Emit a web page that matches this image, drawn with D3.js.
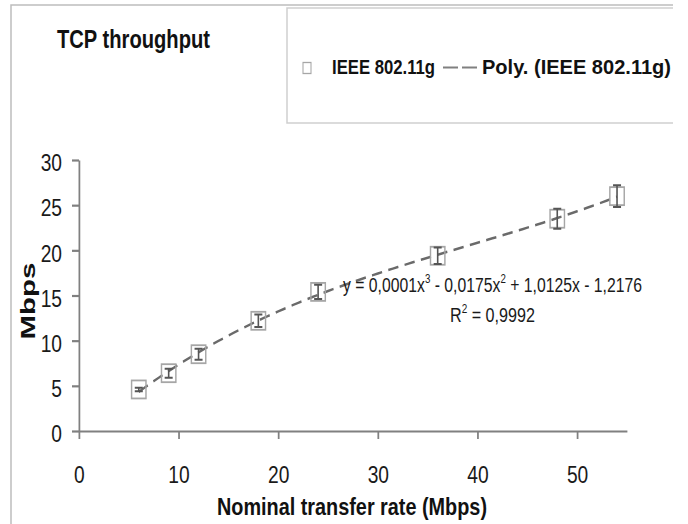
<!DOCTYPE html>
<html>
<head>
<meta charset="utf-8">
<script src="https://cdn.jsdelivr.net/npm/d3@7/dist/d3.min.js"></script>
<style>
  body { margin: 0; background: #fff; }
  text { font-family: "Liberation Sans", Arial, sans-serif; }
</style>
</head>
<body>
<svg id="chart" width="688" height="524"></svg>
<script>
// measured values (Mbps) per nominal rate
var rates = [6, 9, 12, 18, 24, 36, 48, 54]
var throughput = [4.6, 6.4, 8.5, 12.2, 15.4, 19.4, 23.5, 26.0]
var errors = [0.2, 0.5, 0.6, 0.7, 0.8, 0.9, 1.1, 1.2]
var xTicks = [0, 10, 20, 30, 40, 50]
var yTicks = [0, 5, 10, 15, 20, 25, 30]
var title = 'TCP throughput'
var seriesName = 'IEEE 802.11g'
var trendName = 'Poly. (IEEE 802.11g)'
var xTitle = 'Nominal transfer rate (Mbps)'
var yTitle = 'Mbps'

// the original picture is squeezed horizontally, so draw in a wider space and scale it back
var s = 0.8
function vx(px) { return px / s }

var svg = d3.select('#chart')

// outer frame
svg.append('path')
    .attr('d', 'M11,524 V5 H673')
    .attr('fill', 'none')
    .attr('stroke', '#bdbdbd')
    .attr('stroke-width', 1.5)

var g = svg.append('g').attr('transform', 'scale(' + s + ',1)')

var x = d3.scaleLinear().domain([0, 55]).range([vx(79), vx(627)])
var y = d3.scaleLinear().domain([0, 30]).range([431, 160])

// least squares cubic, like the spreadsheet trendline
function polyfit(xs, ys, deg) {
    var n = deg + 1
    var A = [], b = []
    for (var i = 0; i < n; i++) {
        A.push([])
        for (var j = 0; j < n; j++) {
            A[i].push(d3.sum(xs, function(v) { return Math.pow(v, i + j) }))
        }
        b.push(d3.sum(xs, function(v, k) { return ys[k] * Math.pow(v, i) }))
    }
    for (var c = 0; c < n; c++) {
        var p = c
        for (var r = c + 1; r < n; r++) if (Math.abs(A[r][c]) > Math.abs(A[p][c])) p = r
        var t = A[c]; A[c] = A[p]; A[p] = t
        t = b[c]; b[c] = b[p]; b[p] = t
        for (r = c + 1; r < n; r++) {
            var f = A[r][c] / A[c][c]
            for (var k = c; k < n; k++) A[r][k] -= f * A[c][k]
            b[r] -= f * b[c]
        }
    }
    var coef = new Array(n)
    for (i = n - 1; i >= 0; i--) {
        var sum = b[i]
        for (j = i + 1; j < n; j++) sum -= A[i][j] * coef[j]
        coef[i] = sum / A[i][i]
    }
    return coef
}
var coef = polyfit(rates, throughput, 3)
function trend(v) { return coef[0] + coef[1] * v + coef[2] * v * v + coef[3] * v * v * v }

// axes
var yAxis = g.append('g')
    .attr('transform', 'translate(' + vx(79) + ',0)')
    .call(d3.axisLeft(y).tickValues(yTicks).tickSize(vx(7)).tickSizeOuter(0).tickPadding(vx(10)))
var xAxis = g.append('g')
    .attr('transform', 'translate(0,431)')
    .call(d3.axisBottom(x).tickValues(xTicks).tickSize(8).tickSizeOuter(0).tickPadding(27))

;[xAxis, yAxis].forEach(function(a) {
    a.selectAll('path, line').attr('stroke', '#808080').attr('stroke-width', 2.2)
    a.selectAll('text')
        .attr('fill', '#1a1a1a')
        .style('font-size', '24px')
        .style('font-family', '"Liberation Sans", Arial, sans-serif')
})
yAxis.selectAll('text').attr('dy', '0.45em')

// trendline
var line = d3.line()
    .x(function(d) { return x(d) })
    .y(function(d) { return y(trend(d)) })
g.append('path')
    .datum(d3.range(rates[0], rates[rates.length - 1] + 0.01, 0.5))
    .attr('d', line)
    .attr('fill', 'none')
    .attr('stroke', '#6a6a6a')
    .attr('stroke-width', 2.5)
    .attr('stroke-dasharray', '13,8')

// markers
var pts = g.selectAll('.pt').data(rates).enter().append('g').attr('class', 'pt')
pts.append('rect')
    .attr('x', function(d) { return x(d) - 9 })
    .attr('y', function(d, i) { return y(throughput[i]) - 9 })
    .attr('width', 18)
    .attr('height', 18)
    .attr('fill', 'none')
    .attr('stroke', '#a6a6a6')
    .attr('stroke-width', 1.8)

// error bars
pts.append('path')
    .attr('d', function(d, i) {
        var cx = x(d), top = y(throughput[i] + errors[i]), bot = y(throughput[i] - errors[i])
        return 'M' + (cx - 5) + ',' + top + 'H' + (cx + 5) +
            'M' + cx + ',' + top + 'V' + bot +
            'M' + (cx - 5) + ',' + bot + 'H' + (cx + 5)
    })
    .attr('fill', 'none')
    .attr('stroke', '#555')
    .attr('stroke-width', 2)

// equation
var eq = g.append('text')
    .attr('x', vx(343))
    .attr('y', 292)
    .attr('textLength', vx(299))
    .attr('lengthAdjust', 'spacingAndGlyphs')
    .attr('fill', '#1a1a1a')
    .style('font-size', '21px')
eq.append('tspan').text('y = 0,0001x')
eq.append('tspan').attr('dy', -9).style('font-size', '13px').text('3')
eq.append('tspan').attr('dy', 9).text(' - 0,0175x')
eq.append('tspan').attr('dy', -9).style('font-size', '13px').text('2')
eq.append('tspan').attr('dy', 9).text(' + 1,0125x - 1,2176')

var r2 = g.append('text')
    .attr('x', vx(450))
    .attr('y', 322)
    .attr('textLength', vx(85))
    .attr('lengthAdjust', 'spacingAndGlyphs')
    .attr('fill', '#1a1a1a')
    .style('font-size', '21px')
r2.append('tspan').text('R')
r2.append('tspan').attr('dy', -9).style('font-size', '13px').text('2')
r2.append('tspan').attr('dy', 9).text(' = 0,9992')

// titles
g.append('text')
    .attr('x', vx(57))
    .attr('y', 48)
    .attr('textLength', vx(153))
    .attr('lengthAdjust', 'spacingAndGlyphs')
    .attr('font-weight', 'bold')
    .attr('fill', '#111')
    .style('font-size', '26px')
    .text(title)

g.append('text')
    .attr('x', vx(352))
    .attr('y', 515)
    .attr('text-anchor', 'middle')
    .attr('textLength', vx(270))
    .attr('lengthAdjust', 'spacingAndGlyphs')
    .attr('font-weight', 'bold')
    .attr('fill', '#111')
    .style('font-size', '23.7px')
    .text(xTitle)

svg.append('text')
    .attr('transform', 'translate(35,301) scale(0.7,1) rotate(-90)')
    .attr('text-anchor', 'middle')
    .attr('font-weight', 'bold')
    .attr('fill', '#111')
    .style('font-size', '29.5px')
    .text(yTitle)

// legend
svg.append('path')
    .attr('d', 'M673,8 H287 V123 H673')
    .attr('fill', 'none')
    .attr('stroke', '#cfcfcf')
    .attr('stroke-width', 1.5)

var lg = g.append('g')
lg.append('rect')
    .attr('x', vx(303))
    .attr('y', 62.5)
    .attr('width', vx(8))
    .attr('height', 11)
    .attr('fill', 'none')
    .attr('stroke', '#a6a6a6')
    .attr('stroke-width', 1.3)
lg.append('text')
    .attr('x', vx(332))
    .attr('y', 74)
    .attr('textLength', vx(103))
    .attr('lengthAdjust', 'spacingAndGlyphs')
    .attr('font-weight', 'bold')
    .attr('fill', '#111')
    .style('font-size', '20px')
    .text(seriesName)
lg.append('line')
    .attr('x1', vx(443))
    .attr('x2', vx(477))
    .attr('y1', 67.5)
    .attr('y2', 67.5)
    .attr('stroke', '#808080')
    .attr('stroke-width', 2)
    .attr('stroke-dasharray', vx(15) + ',' + vx(4))
lg.append('text')
    .attr('x', vx(482))
    .attr('y', 74)
    .attr('textLength', vx(189))
    .attr('lengthAdjust', 'spacingAndGlyphs')
    .attr('font-weight', 'bold')
    .attr('fill', '#111')
    .style('font-size', '20px')
    .text(trendName)
</script>
</body>
</html>
